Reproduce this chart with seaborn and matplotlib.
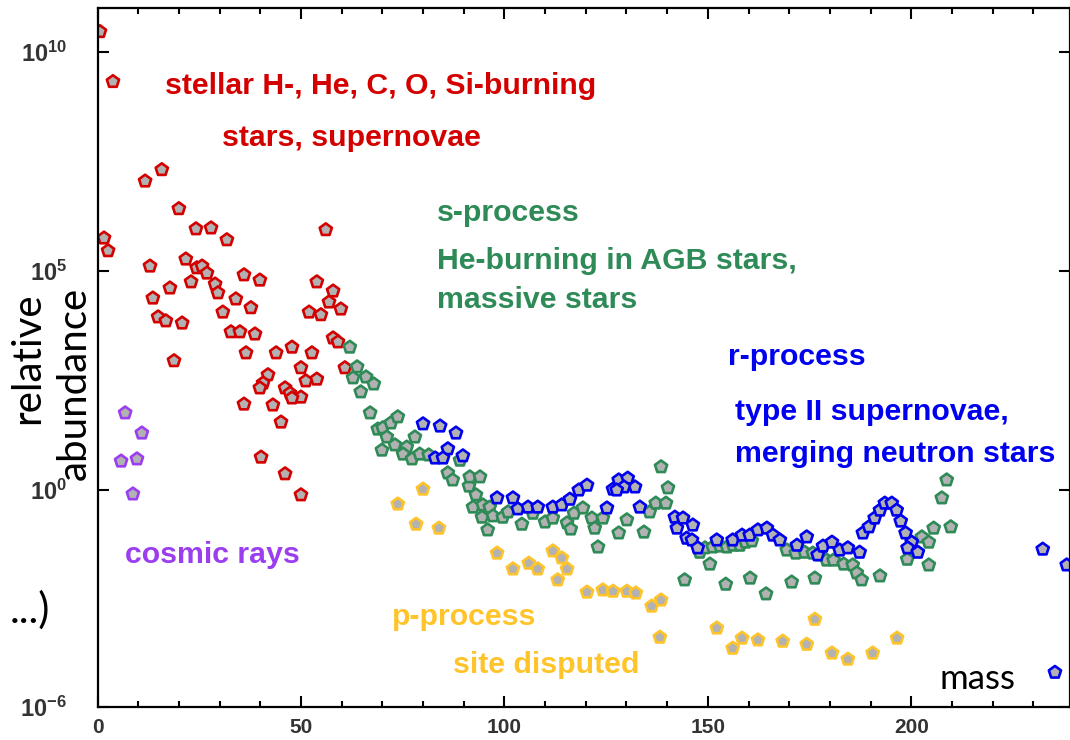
import matplotlib
matplotlib.use("Agg")
import numpy as np
import pandas as pd
import matplotlib.pyplot as plt
import seaborn as sns
from matplotlib import font_manager
from matplotlib.ticker import MultipleLocator, NullLocator

# values: mass number and log10(relative abundance)
red_mass = [0.6, 3.8, 11.7, 15.8, 20.0, 24.2, 27.9, 31.8, 56.1, 1.6,
            2.6, 12.9, 21.7, 24.4, 25.7, 26.9, 23.0, 13.6, 17.8, 14.9,
            16.8, 20.8, 18.8, 36.0, 39.9, 28.9, 29.6, 34.0, 37.7, 30.8,
            32.8, 35.0, 38.7, 36.5, 43.9, 47.8, 52.7, 53.9, 57.9, 56.9,
            59.8, 52.0, 54.9, 57.9, 59.1, 60.8, 50.0, 41.9, 40.7, 39.9,
            51.2, 53.9, 46.1, 47.3, 50.0, 47.8, 36.0, 43.1, 45.1, 40.2,
            46.1, 50.0]
red_logab = [10.46, 9.32, 7.05, 7.31, 6.42, 5.96, 5.98, 5.71, 5.94, 5.75,
             5.46, 5.11, 5.27, 5.07, 5.11, 4.95, 4.75, 4.38, 4.61, 3.95,
             3.86, 3.81, 2.95, 4.91, 4.79, 4.70, 4.50, 4.36, 4.16, 4.06,
             3.61, 3.61, 3.56, 3.13, 3.13, 3.26, 3.13, 4.75, 4.54, 4.29,
             4.13, 4.06, 4.00, 3.47, 3.38, 2.79, 2.79, 2.63, 2.44, 2.33,
             2.49, 2.53, 2.33, 2.21, 2.12, 2.10, 1.96, 1.94, 1.55, 0.75,
             0.37, -0.11]

purple_mass = [6.8, 10.9, 5.8, 9.7, 8.7]
purple_logab = [1.76, 1.30, 0.66, 0.71, -0.09]

green_mass = [62.0, 63.8, 62.8, 66.0, 67.9, 64.7, 67.0, 68.9, 70.1, 72.1,
              73.8, 71.1, 69.9, 73.1, 76.0, 78.0, 75.1, 77.3, 79.2, 81.4,
              89.1, 86.1, 87.3, 91.3, 91.5, 94.0, 93.0, 92.3, 94.7, 96.4,
              94.5, 97.2, 99.6, 100.9, 95.9, 104.3, 107.0, 110.0, 111.9, 115.4,
              116.3, 117.1, 119.3, 121.5, 122.2, 124.2, 123.0, 128.1, 130.1, 134.3,
              135.7, 137.2, 139.7, 140.2, 138.5, 144.3, 148.0, 149.3, 150.5, 151.2,
              153.0, 154.7, 156.2, 157.9, 159.3, 160.8, 154.4, 160.4, 164.3, 169.4,
              171.6, 173.8, 170.6, 176.3, 175.8, 177.5, 179.2, 180.9, 183.4, 185.6,
              186.6, 187.8, 192.3, 199.0, 202.6, 204.3, 205.5, 204.3, 209.7, 207.5,
              208.7]
green_logab = [3.26, 2.81, 2.56, 2.58, 2.42, 2.24, 1.76, 1.39, 1.42, 1.53,
               1.67, 1.21, 0.91, 1.03, 0.98, 1.21, 0.82, 0.71, 0.82, 0.80,
               0.68, 0.39, 0.23, 0.09, 0.30, 0.30, -0.11, -0.39, -0.34, -0.39,
               -0.62, -0.59, -0.62, -0.50, -0.91, -0.78, -0.53, -0.73, -0.64, -0.75,
               -0.89, -0.53, -0.41, -0.64, -0.87, -0.64, -1.30, -0.98, -0.68, -0.96,
               -0.50, -0.30, -0.30, 0.05, 0.53, -2.05, -1.42, -1.32, -1.69, -1.30,
               -1.28, -1.30, -1.26, -1.26, -1.19, -1.16, -2.15, -2.01, -2.37, -1.37,
               -1.44, -1.42, -2.10, -2.01, -1.44, -1.48, -1.60, -1.60, -1.69, -1.71,
               -1.89, -2.05, -1.96, -1.58, -1.07, -1.19, -0.87, -1.71, -0.84, -0.18,
               0.23]

blue_mass = [80.0, 84.2, 88.1, 86.1, 83.0, 84.9, 89.8, 98.2, 102.1, 103.3,
             105.8, 108.2, 111.9, 114.1, 116.1, 118.3, 120.3, 125.2, 126.7, 128.1,
             130.3, 132.1, 129.4, 127.6, 133.3, 141.9, 143.9, 146.3, 142.4, 144.8,
             146.1, 147.5, 152.2, 156.1, 158.4, 160.3, 162.3, 164.5, 166.0, 167.7,
             171.9, 174.3, 177.0, 178.3, 180.5, 182.4, 184.4, 187.3, 188.1, 189.6,
             191.0, 192.3, 193.5, 195.2, 196.4, 197.4, 198.6, 200.1, 199.1, 201.6,
             232.3, 238.2, 235.3]
blue_logab = [1.51, 1.46, 1.30, 0.94, 0.73, 0.73, 0.78, -0.18, -0.18, -0.43,
              -0.39, -0.39, -0.39, -0.34, -0.21, 0.00, 0.11, -0.41, 0.02, 0.23,
              0.27, 0.07, 0.07, 0.00, -0.39, -0.62, -0.64, -0.80, -0.87, -1.10,
              -1.14, -1.32, -1.14, -1.14, -1.03, -1.03, -0.91, -0.87, -1.03, -1.14,
              -1.26, -1.07, -1.48, -1.28, -1.19, -1.37, -1.32, -1.42, -0.98, -0.84,
              -0.64, -0.46, -0.30, -0.30, -0.46, -0.71, -0.98, -1.19, -1.32, -1.42,
              -1.35, -1.71, -4.16]

yellow_mass = [80.0, 73.8, 78.3, 83.9, 98.2, 102.1, 106.0, 108.2, 111.9, 114.1,
               115.4, 113.1, 120.3, 124.2, 126.7, 130.1, 132.3, 136.2, 138.5, 138.2,
               152.2, 156.1, 158.4, 162.3, 168.4, 174.3, 176.3, 180.5, 184.4, 190.5,
               196.5]
yellow_logab = [0.02, -0.32, -0.78, -0.87, -1.44, -1.80, -1.67, -1.80, -1.39, -1.55,
                -1.80, -2.05, -2.33, -2.28, -2.31, -2.31, -2.35, -2.65, -2.51, -3.36,
                -3.15, -3.61, -3.38, -3.42, -3.45, -3.52, -2.95, -3.72, -3.86, -3.72,
                -3.38]

process_colors = {
    "stellar": "#d40000",
    "cosmic": "#9b3ef0",
    "s": "#2e8b57",
    "r": "#0000f0",
    "p": "#ffc42a",
}

sns.set_style("ticks")
installed = {f.name for f in font_manager.fontManager.ttflist}
narrow = "Liberation Sans Narrow" if "Liberation Sans Narrow" in installed else "Liberation Sans"
plt.rcParams["font.family"] = ["Liberation Sans", "DejaVu Sans"]
plt.rcParams["mathtext.fontset"] = "custom"
plt.rcParams["mathtext.bf"] = f"{narrow}:bold"
plt.rcParams["mathtext.rm"] = narrow

groups = [("stellar", red_mass, red_logab), ("cosmic", purple_mass, purple_logab),
          ("s", green_mass, green_logab), ("r", blue_mass, blue_logab),
          ("p", yellow_mass, yellow_logab)]
df = pd.concat([pd.DataFrame({"mass": m, "abundance": 10.0 ** np.array(l), "process": name})
                for name, m, l in groups], ignore_index=True)

fig = plt.figure(figsize=(10.7, 7.4), dpi=100)
ax = fig.add_axes([97.5 / 1070, 33 / 740, 972.5 / 1070, 699 / 740])

sns.scatterplot(data=df, x="mass", y="abundance", hue="process", palette=process_colors,
                marker="p", s=85, legend=False, ax=ax)
# colored outline, gray fill
pts = ax.collections[0]
pts.set_edgecolors(pts.get_facecolors())
pts.set_facecolors("#b2b2b2")
pts.set_linewidths(1.9)

ax.set_yscale("log")
ax.set_xlim(0, 239)
ax.set_ylim(10 ** -4.95, 1e11)
ax.set_xlabel("")
ax.set_ylabel("")

ax.set_xticks([0, 50, 100, 150, 200])
ax.set_xticklabels(["0", "50", "100", "150", "200"], fontweight="bold", fontsize=15, color="#333333")
ax.xaxis.set_minor_locator(MultipleLocator(10))
ax.set_yticks([10 ** -4.95, 1, 1e5, 1e10])
ax.set_yticklabels([r"$\mathbf{10^{-6}}$", r"$\mathbf{10^{0}}$", r"$\mathbf{10^{5}}$", r"$\mathbf{10^{10}}$"],
                   fontsize=17, color="#333333")
ax.yaxis.set_minor_locator(NullLocator())

ax.tick_params(which="both", direction="in", top=True, right=True, width=1.5, color="black")
ax.tick_params(axis="x", which="major", length=8, pad=8)
ax.tick_params(axis="x", which="minor", length=4.5)
ax.tick_params(axis="y", which="major", length=8, pad=22)
for side in ["left", "right", "top", "bottom"]:
    ax.spines[side].set_linewidth(1.6)
    ax.spines[side].set_color("black")

# annotations
def label(x, y, s, color, size=21.8, weight="bold", family=None, **kw):
    fig.text(x / 1070, 1 - y / 740, s, color=color, fontsize=size, fontweight=weight,
             family=family or ["Liberation Sans", "DejaVu Sans"], va="baseline", ha="left", **kw)

label(165, 94, "stellar H-, He, C, O, Si-burning", process_colors["stellar"])
label(222, 146, "stars, supernovae", process_colors["stellar"])
label(437, 221, "s-process", process_colors["s"])
label(437, 269, "He-burning in AGB stars,", process_colors["s"])
label(437, 308, "massive stars", process_colors["s"])
label(728, 365, "r-process", process_colors["r"])
label(735, 420, "type II supernovae,", process_colors["r"])
label(735, 462, "merging neutron stars", process_colors["r"])
label(125, 563, "cosmic rays", process_colors["cosmic"])
label(392, 625, "p-process", process_colors["p"])
label(453, 673, "site disputed", process_colors["p"])

fig.text(28 / 1070, 1 - 358 / 740, "relative", rotation=90, fontsize=29, family=["Lato", "DejaVu Sans"],
         ha="center", va="center", color="black")
fig.text(74 / 1070, 1 - 383 / 740, "abundance", rotation=90, fontsize=29, family=["Lato", "DejaVu Sans"],
         ha="center", va="center", color="black")
fig.text(50 / 1070, 1 - 610 / 740, "...)", fontsize=30, family=["Lato", "DejaVu Sans"],
         ha="right", va="center", color="black")
fig.text(939 / 1070, 1 - 689 / 740, "mass", fontsize=25, family=["Lato", "DejaVu Sans"],
         ha="left", va="baseline", color="black")

fig.savefig("out.png", dpi=100)
